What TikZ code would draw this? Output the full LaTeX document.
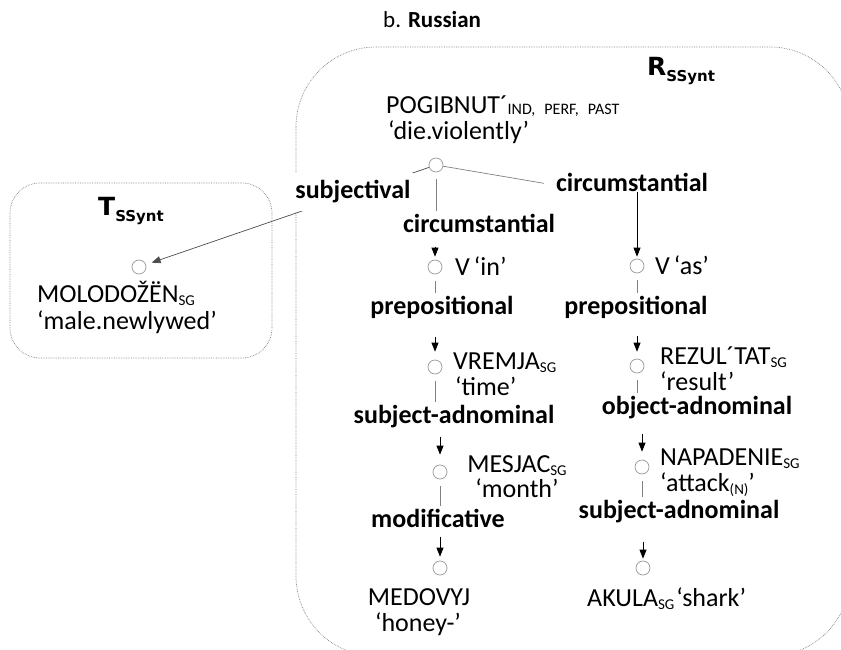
\documentclass[tikz,border=0pt]{standalone}
\usepackage{fontspec}
\setmainfont{Carlito}
\newfontfamily\heavyfont{DejaVu Sans}
\usetikzlibrary{arrows.meta,backgrounds}
\newcommand{\gsub}[1]{\raisebox{-3pt}{\fontsize{15}{15}\selectfont #1}}
\newcommand{\lvl}[1]{{\heavyfont\bfseries\fontsize{25}{25}\selectfont #1\raisebox{-6pt}{\fontsize{15}{15}\selectfont SSynt}}}

\begin{document}
\begin{tikzpicture}[x=1pt,y=-1pt,
	font=\fontsize{26}{26}\selectfont,
	>={Triangle[length=9pt,width=7pt]},
	word/.style={circle,draw=gray!80,line width=0.7pt,minimum size=14pt,inner sep=0pt},
	rel/.style={font=\fontsize{26}{26}\selectfont\bfseries,fill=white,inner xsep=2pt,inner ysep=1pt,text height=19pt,text depth=6pt},
	lex/.style={anchor=base west,inner sep=0pt},
	stem/.style={draw=gray,line width=0.7pt,shorten <=7pt,shorten >=1pt},
	dep/.style={draw=black,line width=0.7pt,->},
	frame/.style={draw=gray,densely dotted,line width=0.7pt}]
	\useasboundingbox (0,0) rectangle (841,650);
	\begin{scope}
		\clip (0,0) rectangle (841,650);
		\draw[frame, rounded corners=80pt] (296,47) rectangle (850,656);
	\end{scope}
	\draw[frame, rounded corners=30pt] (10,183) rectangle (272,358);

	\node[lex] (title) at (383,28) {\fontsize{23}{23}\selectfont b. \textbf{Russian}};
	\node[lex] (rlvl) at (647,76) {\lvl{R}};
	\node[lex] (tlvl) at (98,215) {\lvl{T}};

	% nodes of the tree
	\node[word] (top) at (436,165) {};
	\node[word] (vin) at (435,267) {};
	\node[word] (vremja) at (435,367) {};
	\node[word] (mesjac) at (440,472) {};
	\node[word] (medovyj) at (440,568) {};
	\node[word] (vas) at (637,266) {};
	\node[word] (rezultat) at (637,366) {};
	\node[word] (napadenie) at (642,467) {};
	\node[word] (akula) at (643,568) {};
	\node[word] (molo) at (139,267) {};

	% lexemes
	\node[lex] (wpog) at (386,114) {POGIBNUT´\raisebox{-1pt}{\fontsize{16}{16}\selectfont IND,\hspace{9pt}PERF,\hspace{9pt}PAST}};
	\node[lex] (wpogG) at (388,140) {‘die.violently’};
	\node[lex] (wvin) at (455,275) {V\hspace{4pt}‘in’};
	\node[lex] (wvremja) at (453,369) {VREMJA\gsub{SG}};
	\node[lex] (wvremjaG) at (455,395) {‘time’};
	\node[anchor=base,inner sep=0pt] (wmesjac) at (517,472) {MESJAC\gsub{SG}};
	\node[anchor=base,inner sep=0pt] (wmesjacG) at (517,497) {‘month’};
	\node[anchor=base,inner sep=0pt] (wmedovyj) at (419,605) {MEDOVYJ};
	\node[anchor=base,inner sep=0pt] (wmedovyjG) at (418,631) {‘honey-’};
	\node[lex] (wvas) at (655,274) {V\hspace{4pt}‘as’};
	\node[lex] (wrezultat) at (660,364) {REZUL´TAT\gsub{SG}};
	\node[lex] (wrezultatG) at (660,390) {‘result’};
	\node[lex] (wnapadenie) at (660,465) {NAPADENIE\gsub{SG}};
	\node[lex] (wnapadenieG) at (660,491) {‘attack\gsub{(N)}’};
	\node[lex] (wakula) at (587,606) {AKULA\gsub{SG}\hspace{2pt}‘shark’};
	\node[lex] (wmolo) at (37,302) {MOLODOŽËN\gsub{SG}};
	\node[lex] (wmoloG) at (37,329) {‘male.newlywed’};

	% relations
	\node[rel,inner ysep=6pt] (lsubj) at (353,192) {subjectival};
	\node[rel] (lcircL) at (479,226) {circumstantial};
	\node[rel] (lprepL) at (442,308) {prepositional};
	\node[rel] (lsadnL) at (454,417) {subject-adnominal};
	\node[rel] (lmod) at (438,521) {modificative};
	\node[rel] (lcircR) at (632,185) {circumstantial};
	\node[rel] (lprepR) at (636,308) {prepositional};
	\node[rel] (lobjR) at (697,408) {object-adnominal};
	\node[rel] (lsadnR) at (679,512) {subject-adnominal};

	\begin{scope}[on background layer]
		\draw[dep, draw=gray!60!black, shorten >=6pt] (top) -- (molo);
	\end{scope}
	\draw[draw=gray, line width=0.7pt, shorten >=10pt] (top) -- (lcircR.west);

	\draw[stem] (top) -- (top |- lcircL.north);
	\draw[stem] (vin) -- (vin |- lprepL.north);
	\draw[stem] (vremja) -- (vremja |- lsadnL.north);
	\draw[stem] (mesjac) -- (mesjac |- lmod.north);
	\draw[stem] (vas) -- (vas |- lprepR.north);
	\draw[stem] (rezultat) -- (rezultat |- lobjR.north);
	\draw[stem] (napadenie) -- (napadenie |- lsadnR.north);

	\draw[dep, shorten <=7pt, shorten >=3pt] (lcircL.south -| vin) -- (vin);
	\draw[dep, shorten <=15pt, shorten >=8pt] (lprepL.south -| vremja) -- (vremja);
	\draw[dep, shorten <=6pt, shorten >=10pt] (lsadnL.south -| mesjac) -- (mesjac);
	\draw[dep, shorten <=2pt, shorten >=4pt] (lmod.south -| medovyj) -- (medovyj);
	\draw[dep, shorten <=-7pt, shorten >=2pt] (lcircR.south -| vas) -- (vas);
	\draw[dep, shorten <=14pt, shorten >=7pt] (lprepR.south -| rezultat) -- (rezultat);
	\draw[dep, shorten <=12pt, shorten >=8pt] (lobjR.south -| napadenie) -- (napadenie);
	\draw[dep, shorten <=16pt, shorten >=2pt] (lsadnR.south -| akula) -- (akula);
\end{tikzpicture}
\end{document}
